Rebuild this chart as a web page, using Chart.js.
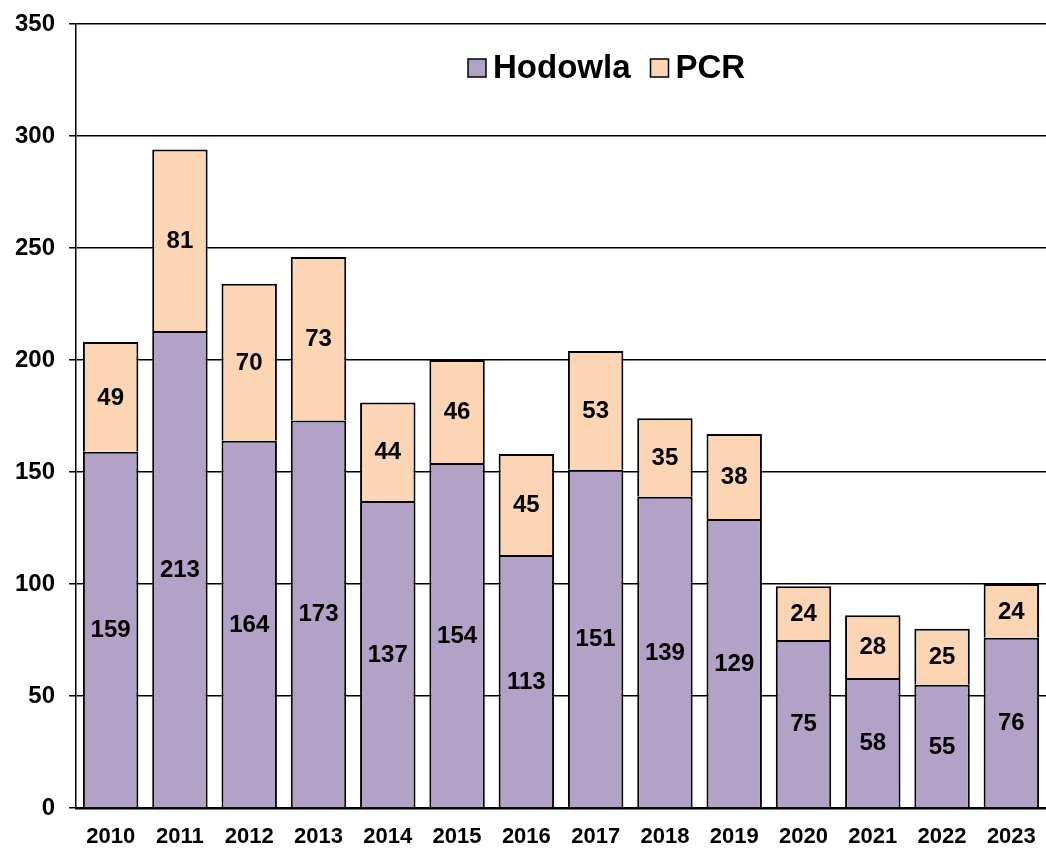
<!DOCTYPE html>
<html>
<head>
<meta charset="utf-8">
<script src="https://cdn.jsdelivr.net/npm/chart.js@4/dist/chart.umd.min.js"></script>
<style>
  html, body { margin: 0; padding: 0; background: #fff; }
  #wrap { width: 1046px; height: 850px; position: relative; }
</style>
</head>
<body>
<div id="wrap"><canvas id="chart" width="1046" height="850"></canvas></div>
<script>
const years = ['2010', '2011', '2012', '2013', '2014', '2015', '2016', '2017', '2018', '2019', '2020', '2021', '2022', '2023'];
const hodowla = [159, 213, 164, 173, 137, 154, 113, 151, 139, 129, 75, 58, 55, 76];
const pcr = [49, 81, 70, 73, 44, 46, 45, 53, 35, 38, 24, 28, 25, 24];
const seriesNames = ['Hodowla', 'PCR'];
const yMax = 350;
const yStep = 50;

const FONT = "'Liberation Sans', Arial, sans-serif";

// value labels in the middle of each segment
const segmentLabels = {
  id: 'segmentLabels',
  afterDatasetsDraw(chart) {
    const ctx = chart.ctx;
    ctx.save();
    ctx.font = 'bold 24px ' + FONT;
    ctx.fillStyle = '#000';
    ctx.textAlign = 'center';
    ctx.textBaseline = 'middle';
    chart.data.datasets.forEach((ds, i) => {
      chart.getDatasetMeta(i).data.forEach((bar, j) => {
        const mid = (bar.y + bar.base) / 2;
        ctx.fillText(String(ds.data[j]), bar.x, mid + 1);
      });
    });
    ctx.restore();
  }
};

// legend sitting inside the plot area
const insideLegend = {
  id: 'insideLegend',
  afterDraw(chart) {
    const ctx = chart.ctx;
    const area = chart.chartArea;
    let x = area.left + 392;
    const y = 68;
    ctx.save();
    ctx.font = 'bold 33px ' + FONT;
    ctx.textBaseline = 'middle';
    ctx.textAlign = 'left';
    chart.data.datasets.forEach((ds) => {
      ctx.fillStyle = ds.backgroundColor;
      ctx.fillRect(x, y - 9, 18, 18);
      ctx.strokeStyle = '#000';
      ctx.lineWidth = 1.5;
      ctx.strokeRect(x, y - 9, 18, 18);
      x += 25;
      ctx.fillStyle = '#000';
      ctx.fillText(ds.label, x, y + 1);
      x += ctx.measureText(ds.label).width + 20;
    });
    ctx.restore();
  }
};

new Chart(document.getElementById('chart'), {
  type: 'bar',
  data: {
    labels: years,
    datasets: [
      {
        label: seriesNames[0],
        data: hodowla,
        backgroundColor: '#B3A2C7',
        borderColor: '#000',
        borderWidth: 2,
        borderSkipped: 'start',
        barPercentage: 0.8,
        categoryPercentage: 1.0
      },
      {
        label: seriesNames[1],
        data: pcr,
        backgroundColor: '#FCD5B5',
        borderColor: '#000',
        borderWidth: 2,
        borderSkipped: 'start',
        barPercentage: 0.8,
        categoryPercentage: 1.0
      }
    ]
  },
  options: {
    responsive: false,
    animation: false,
    layout: { padding: { top: 24, right: 0, bottom: 0, left: 0 } },
    plugins: {
      legend: { display: false },
      tooltip: { enabled: false }
    },
    scales: {
      x: {
        stacked: true,
        afterFit(scale) {
          scale.height = 42;
          scale.paddingLeft = 0;
          scale.paddingRight = 0;
        },
        grid: { display: false, drawTicks: false },
        border: { display: true, color: '#000', width: 2.5 },
        ticks: {
          color: '#000',
          font: { family: FONT, size: 22, weight: 'bold' },
          padding: 16,
          maxRotation: 0
        }
      },
      y: {
        stacked: true,
        min: 0,
        max: yMax,
        afterFit(scale) {
          scale.width = 76;
          scale.paddingTop = 0;
          scale.paddingBottom = 0;
        },
        grid: {
          color: '#000',
          lineWidth: 1.5,
          tickLength: 7,
          tickColor: '#000'
        },
        border: { display: true, color: '#000', width: 1.5 },
        ticks: {
          stepSize: yStep,
          color: '#000',
          font: { family: FONT, size: 24, weight: 'bold' },
          padding: 14
        }
      }
    }
  },
  plugins: [segmentLabels, insideLegend]
});
</script>
</body>
</html>
